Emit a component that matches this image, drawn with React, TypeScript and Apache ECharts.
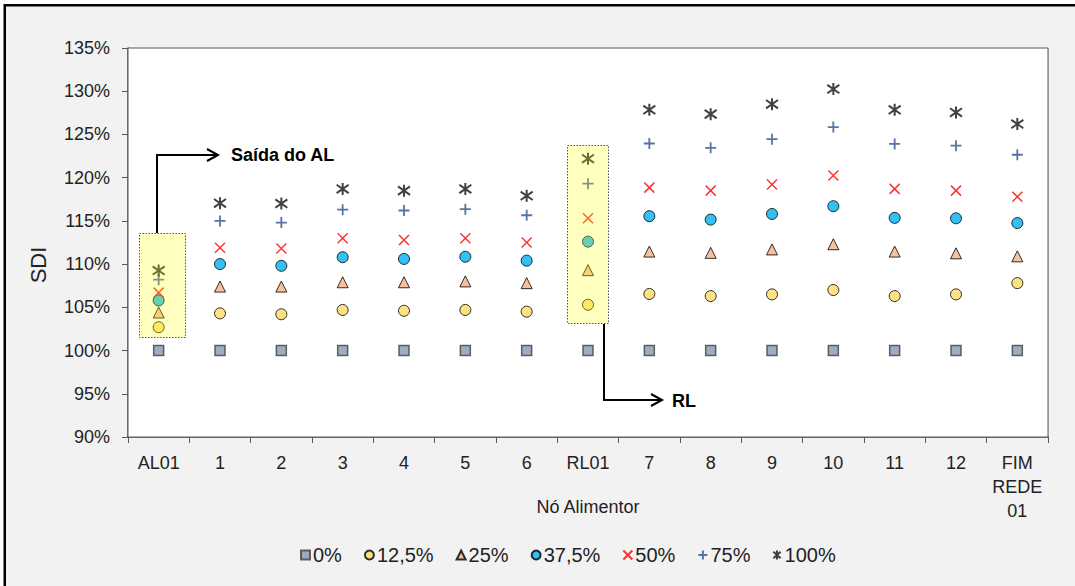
import React, { useEffect, useRef } from "react";
import * as echarts from "echarts";

const categories = ["AL01", "1", "2", "3", "4", "5", "6", "RL01", "7", "8", "9", "10", "11", "12", "FIM\nREDE\n01"];
const yTicks = { min: 90, max: 135, interval: 5 };

const s0 = [100, 100, 100, 100, 100, 100, 100, 100, 100, 100, 100, 100, 100, 100, 100];
const s125 = [102.7, 104.3, 104.2, 104.7, 104.6, 104.7, 104.5, 105.3, 106.55, 106.3, 106.5, 107.0, 106.3, 106.5, 107.8];
const s25 = [104.4, 107.4, 107.4, 107.9, 107.9, 108.0, 107.8, 109.3, 111.45, 111.3, 111.7, 112.3, 111.45, 111.25, 110.9];
const s375 = [105.8, 110.0, 109.8, 110.8, 110.6, 110.85, 110.4, 112.6, 115.55, 115.15, 115.8, 116.7, 115.35, 115.3, 114.75];
const s50 = [106.7, 111.9, 111.8, 113.0, 112.8, 113.0, 112.5, 115.3, 118.85, 118.5, 119.2, 120.25, 118.7, 118.5, 117.8];
const s75 = [108.2, 115.0, 114.8, 116.3, 116.2, 116.35, 115.65, 119.3, 123.95, 123.45, 124.45, 125.85, 123.9, 123.7, 122.65];
const s100 = [109.25, 117.05, 117.0, 118.7, 118.5, 118.7, 117.9, 122.2, 127.85, 127.35, 128.5, 130.25, 127.85, 127.55, 126.2];

const FONT = "'Liberation Sans', Arial, sans-serif";

const CROSS = "path://M0,0 L10,10 M10,0 L0,10";
const PLUS = "path://M5,0 L5,10 M0,5 L10,5";
const STAR = "path://M1,1.5 L9,8.5 M9,1.5 L1,8.5 M5,0 L5,10";

export default function App() {
  const ref = useRef<HTMLDivElement>(null);
  useEffect(() => {
    if (!ref.current) return;
    const chart = echarts.init(ref.current, undefined, { renderer: "svg" });
    const mk = (name: string, data: number[], symbol: string, size: number, itemStyle: any) => ({
      name,
      type: "scatter",
      data,
      symbol,
      symbolSize: size,
      itemStyle,
      z: 3,
    });
    chart.setOption({
      animation: false,
      backgroundColor: "#ffffff",
      textStyle: { fontFamily: FONT },
      grid: {
        left: 128,
        top: 48,
        width: 920,
        height: 389,
        show: true,
        backgroundColor: "#ffffff",
        borderColor: "#595959",
        borderWidth: 1,
        z: 1,
      },
      xAxis: {
        type: "category",
        data: categories,
        boundaryGap: true,
        name: "Nó Alimentor",
        nameLocation: "middle",
        nameGap: 61,
        nameMoveOverlap: false,
        nameTextStyle: { fontSize: 18, color: "#222", fontFamily: FONT },
        axisLine: { lineStyle: { color: "#595959", width: 1.5 } },
        axisTick: { show: true, interval: 0, length: 6, lineStyle: { color: "#595959" } },
        axisLabel: { interval: 0, fontSize: 18, color: "#222", margin: 14, lineHeight: 24, fontFamily: FONT },
        splitLine: { show: true, interval: 0, lineStyle: { color: "#d9d9d9", width: 1 } },
      },
      yAxis: {
        type: "value",
        min: yTicks.min,
        max: yTicks.max,
        interval: yTicks.interval,
        axisLine: { show: true, lineStyle: { color: "#595959", width: 1.5 } },
        axisTick: { show: true, length: 6, lineStyle: { color: "#595959" } },
        axisLabel: { formatter: "{value}%", fontSize: 18, color: "#222", margin: 18, fontFamily: FONT },
        splitLine: { show: true, lineStyle: { color: "#d9d9d9", width: 1 } },
        minorTick: { show: false, splitNumber: 5 },
        minorSplitLine: { show: true, lineStyle: { color: "#c8c8c8", type: "dashed", width: 1 } },
      },
      legend: {
        left: 295,
        top: 540,
        itemWidth: 9,
        itemHeight: 9,
        itemGap: 22,
        textStyle: { fontSize: 20, color: "#222", fontFamily: FONT, padding: [0, 0, 0, -2] },
        data: ["0%", "12,5%", "25%", "37,5%", "50%", "75%", "100%"],
      },
      series: [
        mk("0%", s0, "rect", 10, { color: "#8497b0", borderColor: "#404040", borderWidth: 1.5 }),
        mk("12,5%", s125, "circle", 11, { color: "#ffd966", borderColor: "#000", borderWidth: 1 }),
        mk("25%", s25, "triangle", 11, { color: "#f4b183", borderColor: "#000", borderWidth: 1 }),
        mk("37,5%", s375, "circle", 11, { color: "#00b0f0", borderColor: "#000", borderWidth: 1 }),
        mk("50%", s50, CROSS, 10, { color: "#ff0000", borderColor: "#ff0000", borderWidth: 1.5 }),
        mk("75%", s75, PLUS, 11, { color: "#2f4f8f", borderColor: "#2f4f8f", borderWidth: 1.8 }),
        mk("100%", s100, STAR, 12, { color: "#111", borderColor: "#111", borderWidth: 2 }),
      ],
      graphic: [
        {
          type: "rect",
          z: -10,
          silent: true,
          shape: { x: 4.75, y: 5.25, width: 1200, height: 800 },
          style: { fill: "#f2f2f2", stroke: "#000", lineWidth: 2.5 },
        },
        {
          type: "text",
          z: 100,
          silent: true,
          x: 38,
          y: 265,
          rotation: Math.PI / 2,
          style: { text: "SDI", font: `22px ${FONT}`, fill: "#222", verticalAlign: "middle", align: "center" },
        },
        {
          type: "rect",
          z: 100,
          silent: true,
          shape: { x: 139.5, y: 233.5, width: 46, height: 104 },
          style: { fill: "rgba(255,255,0,0.25)", stroke: "#44546a", lineWidth: 1, lineDash: [1.5, 1.5] },
        },
        {
          type: "rect",
          z: 100,
          silent: true,
          shape: { x: 567.5, y: 145.5, width: 41, height: 178 },
          style: { fill: "rgba(255,255,0,0.25)", stroke: "#44546a", lineWidth: 1, lineDash: [1.5, 1.5] },
        },
        {
          type: "polyline",
          z: 100,
          silent: true,
          shape: { points: [[157, 233], [157, 155], [217, 155]] },
          style: { stroke: "#000", lineWidth: 2, fill: "none" },
        },
        {
          type: "polyline",
          z: 100,
          silent: true,
          shape: { points: [[207, 149], [218, 155], [207, 161]] },
          style: { stroke: "#000", lineWidth: 2, fill: "none" },
        },
        {
          type: "text",
          z: 100,
          silent: true,
          x: 231,
          y: 155,
          style: { text: "Saída do AL", font: `bold 18px ${FONT}`, fill: "#000", verticalAlign: "middle", align: "left" },
        },
        {
          type: "polyline",
          z: 100,
          silent: true,
          shape: { points: [[604, 324], [604, 400], [661, 400]] },
          style: { stroke: "#000", lineWidth: 2, fill: "none" },
        },
        {
          type: "polyline",
          z: 100,
          silent: true,
          shape: { points: [[651, 394], [662, 400], [651, 406]] },
          style: { stroke: "#000", lineWidth: 2, fill: "none" },
        },
        {
          type: "text",
          z: 100,
          silent: true,
          x: 672,
          y: 401,
          style: { text: "RL", font: `bold 18px ${FONT}`, fill: "#000", verticalAlign: "middle", align: "left" },
        },
      ],
    });
    return () => chart.dispose();
  }, []);
  return <div ref={ref} style={{ position: "absolute", left: 0, top: 0, width: 1075, height: 586 }} />;
}
